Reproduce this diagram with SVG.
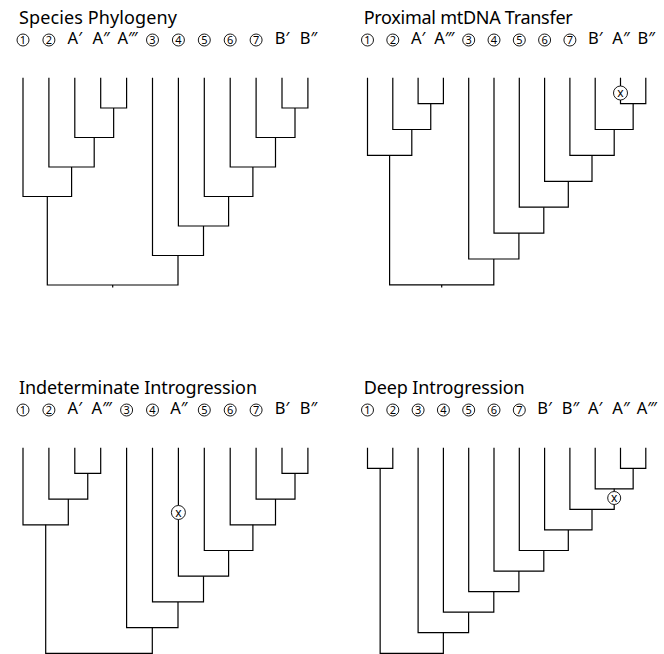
<svg xmlns="http://www.w3.org/2000/svg" width="664" height="654" viewBox="0 0 664 654">
<style>
.title{font-family:"Noto Sans","Open Sans","DejaVu Sans",sans-serif;font-size:18px;fill:#000}
.lab{font-family:"Noto Sans","DejaVu Sans",sans-serif;font-size:16.5px;fill:#000;text-anchor:middle}
.num circle,.mark circle{fill:#fff;stroke:#000;stroke-width:0.9}
.num text{font-family:"Noto Sans","DejaVu Sans",sans-serif;font-size:11px;fill:#000;text-anchor:middle}
.mark text{font-family:"Noto Sans","DejaVu Sans",sans-serif;font-size:12px;fill:#000;text-anchor:middle}
#connectors path{fill:none;stroke:#000;stroke-width:1.2}
</style>
<g id="titles">
<text class="title" x="19" y="24" textLength="158">Species Phylogeny</text>
<text class="title" x="363.7" y="24" textLength="209">Proximal mtDNA Transfer</text>
<text class="title" x="19" y="394" textLength="238">Indeterminate Introgression</text>
<text class="title" x="363.7" y="394" textLength="161">Deep Introgression</text>
</g>
<g id="connectors">
<!-- panel 1 -->
<path d="M100.7 77.7V108H126.6V77.7"/>
<path d="M282 77.7V108H307.9V77.7"/>
<path d="M74.8 77.7V137.5H113.65V108"/>
<path d="M256.1 77.7V137.5H295V108"/>
<path d="M48.9 77.7V167H94.2V137.5"/>
<path d="M230.2 77.7V167H275.5V137.5"/>
<path d="M23 77.7V196.5H71.6V167"/>
<path d="M204.3 77.7V196.5H252.9V167"/>
<path d="M178.4 77.7V226H228.6V196.5"/>
<path d="M152.5 77.7V255.5H203.5V226"/>
<path d="M47.3 196.5V285H178V255.5"/>
<path d="M112.7 285V287.5"/>
<!-- panel 2 -->
<path d="M418.1 77.7V103.6H443.4V77.7"/>
<path d="M620.5 77.7V86"/>
<path d="M620.5 100V103.6H645.8V77.7"/>
<path d="M392.8 77.7V129.5H430.75V103.6"/>
<path d="M595.2 77.7V129.5H633.15V103.6"/>
<path d="M367.5 77.7V155.4H411.8V129.5"/>
<path d="M569.9 77.7V155.4H614.2V129.5"/>
<path d="M544.6 77.7V181.3H592V155.4"/>
<path d="M519.3 77.7V207.2H568.3V181.3"/>
<path d="M494 77.7V233.1H543.8V207.2"/>
<path d="M468.7 77.7V259H518.9V233.1"/>
<path d="M389.6 155.4V284.9H493.8V259"/>
<path d="M441.7 284.9V287.5"/>
<!-- panel 3 -->
<path d="M74.8 447.7V473.4H100.7V447.7"/>
<path d="M282 447.7V473.4H307.9V447.7"/>
<path d="M48.9 447.7V499.1H87.75V473.4"/>
<path d="M256.1 447.7V499.1H295V473.4"/>
<path d="M23 447.7V524.8H68.3V499.1"/>
<path d="M230.2 447.7V524.8H275.5V499.1"/>
<path d="M204.3 447.7V550.5H252.9V524.8"/>
<path d="M178.4 447.7V505.5"/>
<path d="M178.4 519.5V576.2H228.6V550.5"/>
<path d="M152.5 447.7V601.9H203.5V576.2"/>
<path d="M126.6 447.7V627.6H178V601.9"/>
<path d="M45.7 524.8V653.3H152.3V627.6"/>
<!-- panel 4 -->
<path d="M367.5 447.7V468.3H392.8V447.7"/>
<path d="M620.5 447.7V468.3H645.8V447.7"/>
<path d="M595.2 447.7V488.8H633.15V468.3"/>
<path d="M614.2 488.8V491.5"/>
<path d="M569.9 447.7V509.4H614.2V504.5"/>
<path d="M544.6 447.7V529.9H592V509.4"/>
<path d="M519.3 447.7V550.5H568.3V529.9"/>
<path d="M494 447.7V571.1H543.8V550.5"/>
<path d="M468.7 447.7V591.6H518.9V571.1"/>
<path d="M443.4 447.7V612.2H493.8V591.6"/>
<path d="M418.1 447.7V632.7H468.6V612.2"/>
<path d="M380.15 468.3V653.3H443.35V632.7"/>
</g>
<!-- panel 1 tips -->
<g id="p1-1" class="num"><circle cx="23" cy="40" r="6"/><text x="23" y="44">1</text></g>
<g id="p1-2" class="num"><circle cx="48.9" cy="40" r="6"/><text x="48.9" y="44">2</text></g>
<g id="p1-A1"><text class="lab" x="74.8" y="44">A′</text></g>
<g id="p1-A2"><text class="lab" x="101.2" y="44">A″</text></g>
<g id="p1-A3"><text class="lab" x="127.6" y="44">A‴</text></g>
<g id="p1-3" class="num"><circle cx="152.5" cy="40" r="6"/><text x="152.5" y="44">3</text></g>
<g id="p1-4" class="num"><circle cx="178.4" cy="40" r="6"/><text x="178.4" y="44">4</text></g>
<g id="p1-5" class="num"><circle cx="204.3" cy="40" r="6"/><text x="204.3" y="44">5</text></g>
<g id="p1-6" class="num"><circle cx="230.2" cy="40" r="6"/><text x="230.2" y="44">6</text></g>
<g id="p1-7" class="num"><circle cx="256.1" cy="40" r="6"/><text x="256.1" y="44">7</text></g>
<g id="p1-B1"><text class="lab" x="282" y="44">B′</text></g>
<g id="p1-B2"><text class="lab" x="308.4" y="44">B″</text></g>
<!-- panel 2 tips -->
<g id="p2-1" class="num"><circle cx="367.5" cy="40" r="6"/><text x="367.5" y="44">1</text></g>
<g id="p2-2" class="num"><circle cx="392.8" cy="40" r="6"/><text x="392.8" y="44">2</text></g>
<g id="p2-A1"><text class="lab" x="418.1" y="44">A′</text></g>
<g id="p2-A3"><text class="lab" x="444.4" y="44">A‴</text></g>
<g id="p2-3" class="num"><circle cx="468.7" cy="40" r="6"/><text x="468.7" y="44">3</text></g>
<g id="p2-4" class="num"><circle cx="494" cy="40" r="6"/><text x="494" y="44">4</text></g>
<g id="p2-5" class="num"><circle cx="519.3" cy="40" r="6"/><text x="519.3" y="44">5</text></g>
<g id="p2-6" class="num"><circle cx="544.6" cy="40" r="6"/><text x="544.6" y="44">6</text></g>
<g id="p2-7" class="num"><circle cx="569.9" cy="40" r="6"/><text x="569.9" y="44">7</text></g>
<g id="p2-B1"><text class="lab" x="595.2" y="44">B′</text></g>
<g id="p2-A2"><text class="lab" x="621" y="44">A″</text></g>
<g id="p2-B2"><text class="lab" x="646.3" y="44">B″</text></g>
<g id="p2-x" class="mark"><circle cx="620.5" cy="93" r="7"/><text x="620.5" y="97">x</text></g>
<!-- panel 3 tips -->
<g id="p3-1" class="num"><circle cx="23" cy="410" r="6"/><text x="23" y="414">1</text></g>
<g id="p3-2" class="num"><circle cx="48.9" cy="410" r="6"/><text x="48.9" y="414">2</text></g>
<g id="p3-A1"><text class="lab" x="74.8" y="414">A′</text></g>
<g id="p3-A3"><text class="lab" x="101.7" y="414">A‴</text></g>
<g id="p3-3" class="num"><circle cx="126.6" cy="410" r="6"/><text x="126.6" y="414">3</text></g>
<g id="p3-4" class="num"><circle cx="152.5" cy="410" r="6"/><text x="152.5" y="414">4</text></g>
<g id="p3-A2"><text class="lab" x="178.9" y="414">A″</text></g>
<g id="p3-5" class="num"><circle cx="204.3" cy="410" r="6"/><text x="204.3" y="414">5</text></g>
<g id="p3-6" class="num"><circle cx="230.2" cy="410" r="6"/><text x="230.2" y="414">6</text></g>
<g id="p3-7" class="num"><circle cx="256.1" cy="410" r="6"/><text x="256.1" y="414">7</text></g>
<g id="p3-B1"><text class="lab" x="282" y="414">B′</text></g>
<g id="p3-B2"><text class="lab" x="308.4" y="414">B″</text></g>
<g id="p3-x" class="mark"><circle cx="178.4" cy="512.5" r="7"/><text x="178.4" y="516.5">x</text></g>
<!-- panel 4 tips -->
<g id="p4-1" class="num"><circle cx="367.5" cy="410" r="6"/><text x="367.5" y="414">1</text></g>
<g id="p4-2" class="num"><circle cx="392.8" cy="410" r="6"/><text x="392.8" y="414">2</text></g>
<g id="p4-3" class="num"><circle cx="418.1" cy="410" r="6"/><text x="418.1" y="414">3</text></g>
<g id="p4-4" class="num"><circle cx="443.4" cy="410" r="6"/><text x="443.4" y="414">4</text></g>
<g id="p4-5" class="num"><circle cx="468.7" cy="410" r="6"/><text x="468.7" y="414">5</text></g>
<g id="p4-6" class="num"><circle cx="494" cy="410" r="6"/><text x="494" y="414">6</text></g>
<g id="p4-7" class="num"><circle cx="519.3" cy="410" r="6"/><text x="519.3" y="414">7</text></g>
<g id="p4-B1"><text class="lab" x="544.6" y="414">B′</text></g>
<g id="p4-B2"><text class="lab" x="570.4" y="414">B″</text></g>
<g id="p4-A1"><text class="lab" x="595.2" y="414">A′</text></g>
<g id="p4-A2"><text class="lab" x="621" y="414">A″</text></g>
<g id="p4-A3"><text class="lab" x="646.8" y="414">A‴</text></g>
<g id="p4-x" class="mark"><circle cx="614.2" cy="498" r="6.5"/><text x="614.2" y="502">x</text></g>
</svg>
